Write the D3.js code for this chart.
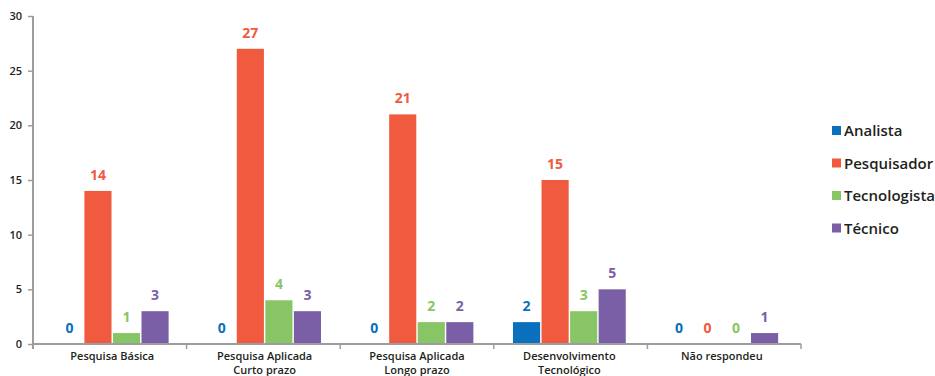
<!DOCTYPE html>
<html>
<head>
<meta charset="utf-8">
<script src="https://cdn.jsdelivr.net/npm/d3@7"></script>
<style>
  html, body { margin: 0; padding: 0; background: #fff; }
  svg { display: block; font-family: "Open Sans", "Noto Sans", sans-serif; }
</style>
</head>
<body>
<svg id="chart" width="935" height="376"></svg>
<script>
// Respondents per research area, split by job category
const categories = [
  ["Pesquisa Básica"],
  ["Pesquisa Aplicada", "Curto prazo"],
  ["Pesquisa Aplicada", "Longo prazo"],
  ["Desenvolvimento", "Tecnológico"],
  ["Não respondeu"]
];
const seriesNames = ["Analista", "Pesquisador", "Tecnologista", "Técnico"];
const analista     = [0, 0, 0, 2, 0];
const pesquisador  = [14, 27, 21, 15, 0];
const tecnologista = [1, 4, 2, 3, 0];
const tecnico      = [3, 3, 2, 5, 1];
const yTicks = [0, 5, 10, 15, 20, 25, 30];
const colors = ["#0a6fbd", "#f05a3e", "#88c665", "#7a5fa7"];

const seriesValues = [analista, pesquisador, tecnologista, tecnico];
const svg = d3.select("#chart");

const plotLeft = 33, plotRight = 801, plotTop = 16, plotBottom = 344;

const x0 = d3.scaleBand()
  .domain(d3.range(categories.length))
  .range([plotLeft, plotRight])
  .paddingInner(0.26)
  .paddingOuter(0.15);
const x1 = d3.scaleBand()
  .domain(d3.range(seriesNames.length))
  .range([0, x0.bandwidth()])
  .paddingInner(0.05);
const y = d3.scaleLinear().domain([0, 30]).range([plotBottom, plotTop]);

const axisColor = "#9d9d9d";
const textColor = "#231f20";

// Bars and value labels
const groups = svg.append("g").selectAll("g")
  .data(categories.map((c, i) => i))
  .join("g")
  .attr("transform", i => `translate(${x0(i)},0)`);

groups.selectAll("rect")
  .data(i => seriesValues.map((vals, s) => ({ s, v: vals[i] })))
  .join("rect")
  .attr("x", d => x1(d.s))
  .attr("width", x1.bandwidth())
  .attr("y", d => y(d.v))
  .attr("height", d => y(0) - y(d.v))
  .attr("fill", d => colors[d.s]);

groups.selectAll("text")
  .data(i => seriesValues.map((vals, s) => ({ s, v: vals[i] })))
  .join("text")
  .attr("x", d => x1(d.s) + x1.bandwidth() / 2)
  .attr("y", d => y(d.v) - 11)
  .attr("text-anchor", "middle")
  .attr("font-size", 14)
  .attr("font-weight", 700)
  .attr("fill", d => colors[d.s])
  .text(d => d.v);

// Y axis
const yAxis = svg.append("g")
  .attr("transform", `translate(${plotLeft},0)`)
  .call(d3.axisLeft(y).tickValues(yTicks).tickSize(5).tickPadding(6));
yAxis.select(".domain").attr("stroke", axisColor).attr("stroke-width", 2)
  .attr("d", `M0,${plotTop}V${plotBottom + 5}`);
yAxis.selectAll(".tick line").attr("stroke", axisColor).attr("stroke-width", 1.5);
yAxis.selectAll(".tick text")
  .attr("fill", textColor)
  .attr("font-size", 11)
  .attr("font-weight", 600)
  .attr("font-family", "'Open Sans', sans-serif");

// X axis with ticks at category boundaries
const xAxis = svg.append("g");
xAxis.append("line")
  .attr("x1", plotLeft).attr("x2", plotRight)
  .attr("y1", plotBottom).attr("y2", plotBottom)
  .attr("stroke", axisColor).attr("stroke-width", 2);
xAxis.selectAll("line.sep")
  .data(d3.range(1, categories.length + 1))
  .join("line")
  .attr("class", "sep")
  .attr("x1", i => plotLeft + (plotRight - plotLeft) * i / categories.length)
  .attr("x2", i => plotLeft + (plotRight - plotLeft) * i / categories.length)
  .attr("y1", plotBottom).attr("y2", plotBottom + 5)
  .attr("stroke", axisColor).attr("stroke-width", 1.5);

xAxis.selectAll("text.cat")
  .data(categories)
  .join("text")
  .attr("class", "cat")
  .attr("x", (d, i) => x0(i) + x0.bandwidth() / 2)
  .attr("y", plotBottom + 16)
  .attr("text-anchor", "middle")
  .attr("font-size", 11)
  .attr("font-weight", 600)
  .attr("fill", textColor)
  .selectAll("tspan")
  .data(d => d)
  .join("tspan")
  .attr("x", function () { return d3.select(this.parentNode).attr("x"); })
  .attr("dy", (d, j) => j === 0 ? 0 : 14)
  .text(d => d);

// Legend
const legend = svg.append("g").attr("transform", "translate(832,131)");
const items = legend.selectAll("g")
  .data(seriesNames)
  .join("g")
  .attr("transform", (d, i) => `translate(0,${i * 32.5})`);
items.append("rect")
  .attr("x", 0).attr("y", -5).attr("width", 9).attr("height", 9)
  .attr("fill", (d, i) => colors[i]);
items.append("text")
  .attr("x", 12).attr("y", 5)
  .attr("font-size", 15)
  .attr("font-weight", 600)
  .attr("fill", textColor)
  .text(d => d);
</script>
</body>
</html>
